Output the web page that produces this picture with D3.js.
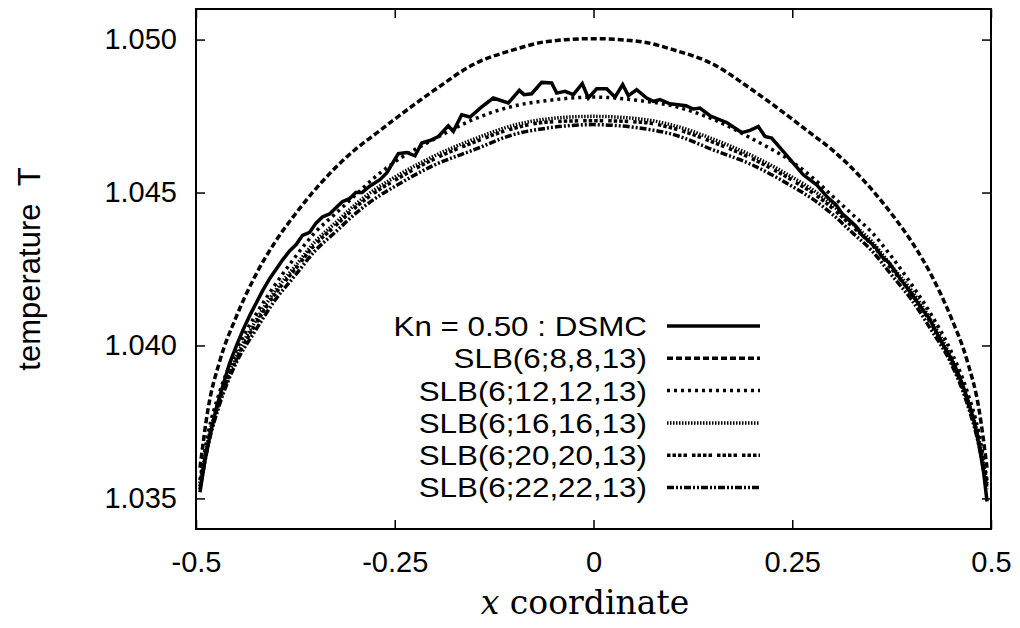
<!DOCTYPE html>
<html>
<head>
<meta charset="utf-8">
<script src="https://cdn.jsdelivr.net/npm/d3@7"></script>
<style>
  body { margin: 0; background: #fff; }
  svg text { font-family: "Liberation Sans", Arial, sans-serif; fill: #000; }
</style>
</head>
<body>
<svg id="chart" width="1020" height="628"></svg>
<script>
// x positions shared by the SLB profiles
var slbX = [-0.495, -0.485, -0.47, -0.45, -0.425, -0.40, -0.375, -0.35, -0.325, -0.30, -0.275, -0.25,
            -0.20, -0.15, -0.10, -0.06, 0, 0.06, 0.10, 0.15, 0.20,
            0.25, 0.275, 0.30, 0.325, 0.35, 0.375, 0.40, 0.425, 0.45, 0.47, 0.485, 0.495];

var slb8 = [1.0360, 1.0379, 1.0395, 1.0409, 1.0423, 1.0434, 1.0443, 1.0451, 1.0458, 1.0464, 1.04690, 1.0474,
            1.04835, 1.0492, 1.04967, 1.04993, 1.05003, 1.04993, 1.04967, 1.0492, 1.04835,
            1.0474, 1.04690, 1.0464, 1.0458, 1.0451, 1.0443, 1.0434, 1.0423, 1.0409, 1.0395, 1.0379, 1.0360];

var slb12 = [1.0356, 1.0371, 1.0385, 1.0398, 1.0410, 1.0420, 1.0429, 1.0437, 1.0443, 1.0449, 1.04550, 1.0460,
             1.04675, 1.0474, 1.04783, 1.0480, 1.04812, 1.0480, 1.04783, 1.0474, 1.04675,
             1.0460, 1.04550, 1.0449, 1.0443, 1.0437, 1.0429, 1.0420, 1.0410, 1.0398, 1.0385, 1.0371, 1.0356];

var slb16 = [1.0355, 1.0369, 1.0383, 1.0396, 1.0408, 1.0418, 1.0426, 1.0434, 1.0440, 1.0446, 1.0451, 1.0455,
             1.0462, 1.04675, 1.0472, 1.0474, 1.04749, 1.0474, 1.0472, 1.04675, 1.0462,
             1.0455, 1.0451, 1.0446, 1.0440, 1.0434, 1.0426, 1.0418, 1.0408, 1.0396, 1.0383, 1.0369, 1.0355];

var slb20 = [1.0354, 1.0368, 1.0382, 1.0395, 1.0407, 1.0417, 1.0425, 1.0433, 1.0439, 1.0445, 1.0450, 1.0454,
             1.0461, 1.04665, 1.0471, 1.0473, 1.04735, 1.0473, 1.0471, 1.04665, 1.0461,
             1.0454, 1.0450, 1.0445, 1.0439, 1.0433, 1.0425, 1.0417, 1.0407, 1.0395, 1.0382, 1.0368, 1.0354];

var slb22 = [1.0353, 1.0367, 1.0381, 1.0394, 1.0405, 1.0415, 1.0423, 1.0431, 1.0437, 1.0443, 1.0448, 1.0452,
             1.0459, 1.0464, 1.0469, 1.0471, 1.04722, 1.0471, 1.0469, 1.0464, 1.0459,
             1.0452, 1.0448, 1.0443, 1.0437, 1.0431, 1.0423, 1.0415, 1.0405, 1.0394, 1.0381, 1.0367, 1.0353];

// DSMC run, noisy
var dsmcX = [-0.495, -0.489, -0.482, -0.474, -0.466, -0.458, -0.449, -0.441, -0.432, -0.424, -0.416, -0.407,
             -0.399, -0.391, -0.382, -0.374, -0.366, -0.357, -0.349, -0.341, -0.332, -0.324, -0.316, -0.307,
             -0.299, -0.291, -0.282, -0.2686, -0.2601, -0.2455, -0.2350, -0.2245, -0.2161, -0.2057, -0.1952,
             -0.1826, -0.1763, -0.1658, -0.1553, -0.1406, -0.1260, -0.1071, -0.0933, -0.0874, -0.0778, -0.0652,
             -0.0526, -0.0463, -0.0358, -0.0254, -0.0141, -0.0065, 0.0040, 0.0166, 0.0270, 0.0367, 0.0438,
             0.0543, 0.0669, 0.0753, 0.0836, 0.0962, 0.1164, 0.1256, 0.1340, 0.1465, 0.1675, 0.1864, 0.1969,
             0.2073, 0.2157, 0.2241, 0.2367, 0.2513, 0.2639, 0.2807, 0.2953, 0.305, 0.313, 0.322, 0.330, 0.338,
             0.347, 0.355, 0.363, 0.372, 0.380, 0.388, 0.397, 0.405, 0.413, 0.422, 0.430, 0.438, 0.447, 0.455,
             0.463, 0.471, 0.479, 0.486, 0.491, 0.495];
var dsmcT = [1.0352, 1.0362, 1.0371, 1.0380, 1.0387, 1.0394, 1.0400, 1.0405, 1.0410, 1.0414, 1.0418, 1.0422,
             1.0425, 1.0428, 1.0431, 1.0433, 1.0436, 1.0437, 1.0440, 1.0442, 1.0443, 1.0445, 1.0447, 1.0448,
             1.0450, 1.0450, 1.0452, 1.04542, 1.04564, 1.04627, 1.04631, 1.04620, 1.04662, 1.04670, 1.04683,
             1.04718, 1.04700, 1.04754, 1.04747, 1.04780, 1.04809, 1.04793, 1.04834, 1.04820, 1.04823, 1.04860,
             1.04858, 1.04825, 1.04831, 1.04820, 1.04856, 1.04809, 1.04839, 1.04839, 1.04812, 1.04853, 1.04817,
             1.04836, 1.04809, 1.04798, 1.04804, 1.04790, 1.04784, 1.04773, 1.04776, 1.04751, 1.04729, 1.04696, 1.04703,
             1.04716, 1.04683, 1.04678, 1.04640, 1.04596, 1.04558, 1.04525, 1.04482, 1.0446, 1.0443, 1.0441, 1.0439, 1.0436,
             1.0434, 1.0432, 1.0429, 1.0427, 1.0424, 1.0421, 1.0418, 1.0415, 1.0412, 1.0409, 1.0405, 1.0401, 1.0397, 1.0393,
             1.0388, 1.0382, 1.0375, 1.0366, 1.0358, 1.0349];

var xTicks = [-0.5, -0.25, 0, 0.25, 0.5];
var xTickLabels = ["-0.5", "-0.25", "0", "0.25", "0.5"];
var yTicks = [1.035, 1.040, 1.045, 1.050];

var seriesNames = ["Kn = 0.50 : DSMC", "SLB(6;8,8,13)", "SLB(6;12,12,13)",
                   "SLB(6;16,16,13)", "SLB(6;20,20,13)", "SLB(6;22,22,13)"];
var dashes = [null, "6,3", "3,4", "1.5,1.5", "3.5,2,3.5,2,3.5,2,3.5,5", "7,2,2,2,2,2"];

var margin = {left: 196, top: 9, right: 29, bottom: 99};
var W = 1020, H = 628;

var svg = d3.select("#chart");

var x = d3.scaleLinear().domain([-0.5, 0.5]).range([margin.left, W - margin.right]);
var y = d3.scaleLinear().domain([1.034, 1.051]).range([H - margin.bottom, margin.top]);

// series as point lists
var series = [
  d3.zip(dsmcX, dsmcT),
  d3.zip(slbX, slb8),
  d3.zip(slbX, slb12),
  d3.zip(slbX, slb16),
  d3.zip(slbX, slb20),
  d3.zip(slbX, slb22)
];

var lineLin = d3.line().x(function(d){ return x(d[0]); }).y(function(d){ return y(d[1]); });
var lineSmooth = d3.line().curve(d3.curveMonotoneX)
  .x(function(d){ return x(d[0]); }).y(function(d){ return y(d[1]); });

// axes with inward ticks (mirrored on top/right)
var tickLen = 9;
svg.append("g").attr("transform", "translate(0," + (H - margin.bottom) + ")")
  .call(d3.axisBottom(x).tickValues(xTicks).tickSizeInner(-tickLen).tickSizeOuter(0).tickPadding(22)
    .tickFormat(function(d, i){ return xTickLabels[i]; }));
svg.append("g").attr("transform", "translate(0," + margin.top + ")")
  .call(d3.axisTop(x).tickValues(xTicks).tickSizeInner(-tickLen).tickSizeOuter(0).tickFormat(""));
svg.append("g").attr("transform", "translate(" + margin.left + ",0)")
  .call(d3.axisLeft(y).tickValues(yTicks).tickSizeInner(-tickLen).tickSizeOuter(0).tickPadding(19)
    .tickFormat(d3.format(".3f")));
svg.append("g").attr("transform", "translate(" + (W - margin.right) + ",0)")
  .call(d3.axisRight(y).tickValues(yTicks).tickSizeInner(-tickLen).tickSizeOuter(0).tickFormat(""));

svg.selectAll(".domain").remove();
svg.selectAll(".tick line").attr("stroke", "#000").attr("stroke-width", 1.5);
svg.selectAll(".tick text").style("font-size", "29px").attr("fill", "#000");

// frame
svg.append("rect")
  .attr("x", margin.left).attr("y", margin.top)
  .attr("width", W - margin.left - margin.right).attr("height", H - margin.top - margin.bottom)
  .attr("fill", "none").attr("stroke", "#000").attr("stroke-width", 2);

// curves
series.forEach(function(s, i) {
  svg.append("path")
    .datum(s)
    .attr("d", i === 0 ? lineLin : lineSmooth)
    .attr("fill", "none")
    .attr("stroke", "#000")
    .attr("stroke-width", 3.5)
    .attr("stroke-dasharray", dashes[i]);
});

// legend - rows are tight, so a smaller font stretched back out to the original width
var legX = 647, legY = 326, legRow = 32.3, legStretch = 1.14;
seriesNames.forEach(function(name, i) {
  var yy = legY + i * legRow;
  var t = svg.append("text").attr("x", legX).attr("y", yy).attr("dy", "0.36em")
    .attr("text-anchor", "end").style("font-size", "27.5px").text(name);
  var len = t.node().getComputedTextLength();
  t.attr("textLength", len * legStretch).attr("lengthAdjust", "spacingAndGlyphs");
  svg.append("line").attr("x1", 667).attr("x2", 760).attr("y1", yy).attr("y2", yy)
    .attr("stroke", "#000").attr("stroke-width", 3.5).attr("stroke-dasharray", dashes[i]);
});

// axis titles
svg.append("text")
  .attr("transform", "translate(40," + ((margin.top + H - margin.bottom) / 2) + ") rotate(-90)")
  .attr("text-anchor", "middle").style("font-size", "31px")
  .text("temperature\u00a0\u00a0T");

var xl = svg.append("text")
  .attr("x", 585).attr("y", 614)
  .attr("text-anchor", "middle")
  .style("font-family", "'DejaVu Serif', 'Liberation Serif', serif").style("font-size", "33px");
xl.append("tspan").style("font-style", "italic").text("x");
xl.append("tspan").text(" coordinate");
</script>
</body>
</html>
